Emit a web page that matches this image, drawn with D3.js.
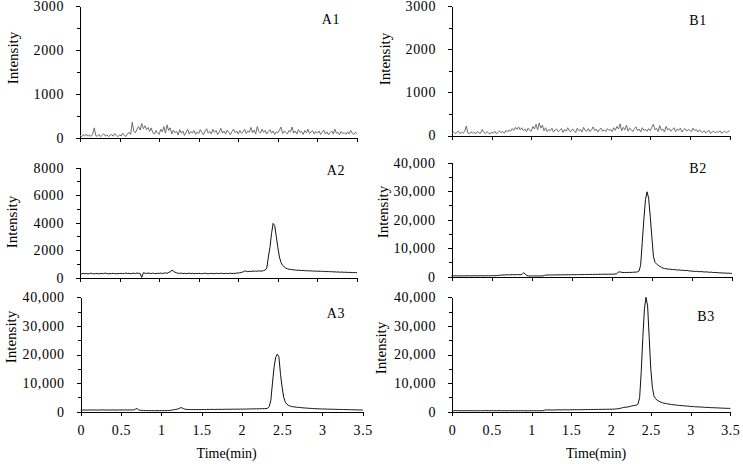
<!DOCTYPE html>
<html>
<head>
<meta charset="utf-8">
<script src="https://cdnjs.cloudflare.com/ajax/libs/d3/7.8.5/d3.min.js"></script>
<style>
body { margin: 0; background: #fff; }
svg text { font-family: "Liberation Serif", "Times New Roman", serif; fill: #000; }
.axis path, .axis line { stroke: #000; stroke-width: 1; shape-rendering: crispEdges; }
.axis text { font-size: 14px; letter-spacing: 0.6px; }
.trace { fill: none; stroke-width: 1; }
</style>
</head>
<body>
<svg width="743" height="464"></svg>
<script>
// sampling interval of the traces (min)
var sampleStep = 0.02;

var panelNames = ['A1', 'B1', 'A2', 'B2', 'A3', 'B3'];
var yMaxes = [3000, 3000, 8000, 40000, 40000, 40000];
var yMajorSteps = [1000, 1000, 2000, 10000, 10000, 10000];
var xTicks = [0, 0.5, 1, 1.5, 2, 2.5, 3, 3.5];

var seriesA1 = [
    60, 30, 75, 45, 90, 40, 70, 35, 85, 230, 50, 40, 80, 30, 65, 95, 45, 70, 35, 60, 80, 40, 100, 55, 30,
    70, 45, 110, 60, 35, 90, 130, 80, 360, 150, 120, 200, 260, 180, 330, 210, 280, 190, 240, 150, 230, 120, 90, 170, 110,
    80, 200, 140, 260, 110, 300, 170, 230, 90, 180, 120, 150, 70, 190, 110, 160, 60, 130, 200, 90, 150, 110, 170, 80, 140,
    100, 190, 130, 70, 160, 210, 110, 150, 90, 200, 130, 170, 80, 140, 220, 110, 160, 90, 180, 130, 70, 150, 200, 120, 160,
    90, 170, 110, 140, 200, 100, 160, 130, 240, 120, 180, 90, 260, 150, 110, 200, 130, 170, 90, 150, 190, 110, 160, 80, 140,
    120, 180, 250, 100, 160, 130, 90, 170, 140, 250, 110, 160, 90, 190, 130, 150, 80, 170, 120, 200, 100, 140, 170, 90, 150,
    110, 160, 80, 130, 180, 90, 140, 70, 120, 160, 90, 200, 110, 130, 70, 150, 100, 120, 80, 140, 90, 170, 110, 80, 130, 100
];

var seriesB1 = [
    50, 80, 40, 70, 100, 45, 75, 55, 90, 220, 60, 40, 85, 55, 70, 40, 95, 60, 50, 140, 75, 45, 90, 60, 35,
    80, 55, 100, 40, 70, 110, 60, 90, 50, 120, 80, 130, 100, 160, 120, 190, 140, 200, 130, 180, 110, 150, 90, 170, 120,
    100, 210, 150, 260, 130, 290, 170, 240, 110, 180, 90, 140, 110, 170, 80, 130, 150, 90, 120, 160, 70, 140, 100, 180, 110,
    90, 150, 120, 70, 170, 110, 140, 80, 190, 120, 100, 160, 90, 130, 200, 110, 150, 80, 140, 170, 100, 130, 90, 160, 120,
    140, 90, 180, 120, 210, 150, 270, 110, 190, 130, 240, 100, 170, 140, 90, 160, 200, 110, 150, 80, 180, 120, 140, 100, 160,
    110, 190, 260, 130, 170, 90, 230, 120, 150, 80, 210, 130, 160, 100, 140, 180, 90, 150, 120, 170, 80, 130, 160, 100, 140,
    120, 90, 170, 110, 140, 80, 130, 100, 70, 110, 60, 90, 120, 50, 80, 100, 60, 90, 70, 110, 50, 80, 100, 60, 90, 110
];

var seriesA2 = [
    300, 280, 320, 290, 310, 270, 300, 330, 290, 280, 310, 300, 270, 320, 290, 310, 330, 300, 280, 310, 290, 320, 300, 280, 310,
    300, 320, 290, 310, 340, 300, 320, 290, 310, 330, 300, 340, 320, 310, 20, 360, 330, 310, 340, 320, 300, 330, 310, 290, 320,
    310, 340, 300, 330, 350, 320, 380, 420, 550, 480, 400, 350, 330, 310, 340, 300, 320, 290, 310, 330, 300, 320, 290, 310, 300,
    320, 300, 290, 310, 330, 300, 280, 310, 320, 300, 290, 320, 310, 300, 330, 310, 290, 320, 300, 310, 330, 300, 320, 310, 340,
    340, 360, 380, 420, 500, 460, 440, 470, 450, 480, 460, 490, 470, 500, 480, 480, 520, 560, 700, 1500, 2200, 3200, 3950, 3800, 3000,
    2200, 1500, 1100, 900, 780, 700, 650, 620, 600, 590, 570, 560, 540, 550, 530, 520, 530, 510, 500, 510, 490, 500, 480, 490, 470,
    480, 470, 460, 470, 450, 460, 440, 450, 430, 440, 420, 430, 410, 420, 400, 410, 400, 390, 400, 380, 390, 380, 370, 380, 370, 360
];

var seriesB2 = [
    300, 250, 350, 280, 320, 260, 340, 300, 270, 330, 290, 350, 310, 280, 360, 300, 330, 280, 350, 310, 290, 340, 320, 360, 300,
    350, 380, 330, 400, 450, 500, 550, 620, 580, 650, 700, 640, 680, 720, 660, 700, 750, 680, 720, 800, 1400, 900, 400, 280, 250,
    270, 240, 300, 260, 280, 250, 300, 270, 450, 600, 550, 620, 580, 640, 600, 650, 610, 680, 630, 660, 700, 640, 690, 720, 670,
    700, 740, 680, 750, 720, 760, 700, 780, 740, 800, 760, 790, 820, 770, 840, 800, 830, 860, 810, 870, 850, 880, 840, 900, 870,
    900, 880, 950, 1000, 1600, 1700, 1550, 1500, 1450, 1500, 1480, 1520, 1500, 1550, 1580, 1600, 1700, 2000, 4000, 12000, 20000, 27000, 29800, 27500, 21000,
    14000, 7000, 5000, 4400, 4000, 3600, 3300, 3000, 2850, 2800, 2650, 2700, 2550, 2500, 2550, 2400, 2350, 2400, 2250, 2300, 2200, 2150, 2200, 2050, 2000,
    1950, 1900, 1850, 1900, 1800, 1750, 1800, 1700, 1650, 1700, 1600, 1550, 1600, 1500, 1450, 1500, 1400, 1350, 1400, 1300, 1250, 1300, 1200, 1250, 1150, 1200
];

var seriesA3 = [
    600, 560, 620, 580, 540, 610, 590, 630, 570, 600, 550, 620, 580, 600, 640, 570, 590, 610, 560, 600, 630, 580, 550, 610, 590,
    600, 620, 580, 640, 590, 610, 570, 630, 600, 900, 1100, 600, 500, 450, 420, 380, 400, 360, 380, 350, 370, 340, 360, 380, 350,
    370, 350, 380, 360, 400, 420, 500, 600, 700, 800, 900, 1100, 1400, 1300, 1000, 850, 800, 750, 780, 720, 760, 700, 740, 780, 720,
    760, 800, 740, 780, 820, 760, 800, 840, 780, 820, 800, 860, 820, 790, 850, 830, 870, 820, 860, 900, 850, 880, 920, 870, 900,
    920, 880, 950, 900, 980, 940, 1000, 960, 1020, 980, 1040, 1000, 1060, 1080, 1050, 1100, 1200, 1800, 4000, 10000, 15500, 19000, 20100, 19200, 13000,
    8500, 5000, 3300, 2600, 2200, 1950, 1800, 1700, 1650, 1550, 1500, 1480, 1400, 1350, 1300, 1280, 1200, 1180, 1150, 1100, 1080, 1050, 1020, 1000, 980,
    960, 930, 940, 890, 900, 860, 870, 830, 840, 800, 810, 770, 780, 740, 750, 710, 720, 690, 700, 660, 670, 630, 640, 600, 610, 580
];

var seriesB3 = [
    350, 300, 380, 330, 400, 320, 360, 290, 370, 340, 310, 390, 330, 350, 300, 380, 340, 320, 370, 300, 360, 390, 330, 350, 310,
    360, 330, 380, 310, 350, 400, 340, 320, 370, 350, 300, 360, 330, 380, 320, 350, 300, 340, 370, 310, 350, 330, 290, 340, 320,
    330, 300, 350, 320, 340, 310, 360, 330, 500, 620, 580, 650, 600, 560, 640, 600, 620, 680, 630, 600, 660, 700, 640, 620, 680,
    650, 700, 680, 720, 660, 740, 700, 690, 760, 720, 740, 780, 730, 800, 760, 780, 820, 770, 840, 800, 820, 860, 810, 880, 850,
    880, 900, 920, 950, 1000, 1100, 1200, 1350, 1500, 1550, 1600, 1700, 1850, 2000, 2100, 2200, 2300, 2700, 5000, 14000, 26000, 36000, 40000, 37000, 26000,
    15000, 8500, 5500, 4600, 4000, 3700, 3400, 3200, 3000, 2900, 2800, 2700, 2600, 2500, 2450, 2400, 2300, 2250, 2200, 2150, 2100, 2050, 2000, 1950, 1900,
    1850, 1780, 1800, 1700, 1720, 1640, 1660, 1580, 1600, 1500, 1530, 1450, 1480, 1400, 1420, 1350, 1380, 1300, 1320, 1250, 1270, 1200, 1230, 1150, 1180, 1120
];

var allSeries = [seriesA1, seriesB1, seriesA2, seriesB2, seriesA3, seriesB3];

// where each panel sits on the page
var layout = [
    { x0: 80,   x1: 357,   yTop: 6,     yBot: 138,   label: [331, 24],  ylab: [13, 58],   color: '#6f6f6f', bottom: false },
    { x0: 452,  x1: 729.5, yTop: 6,     yBot: 135.5, label: [698, 25],  ylab: [385, 59],  color: '#6f6f6f', bottom: false },
    { x0: 80,   x1: 357,   yTop: 167.7, yBot: 277.7, label: [336, 175], ylab: [12, 222],  color: '#111', bottom: false },
    { x0: 451.5, x1: 732,  yTop: 162.7, yBot: 276.7, label: [698, 173], ylab: [383, 212], color: '#111', bottom: false },
    { x0: 80.7, x1: 362.7, yTop: 297.3, yBot: 411.7, label: [336, 318], ylab: [11, 337],  color: '#111', bottom: true },
    { x0: 452,  x1: 730.3, yTop: 297.3, yBot: 411.7, label: [706, 321], ylab: [381, 348], color: '#111', bottom: true }
];

var svg = d3.select('svg');

panelNames.forEach(function(name, k) {
    var L = layout[k];
    var data = allSeries[k];
    var yMax = yMaxes[k];
    var step = yMajorSteps[k];

    var x = d3.scaleLinear().domain([0, 3.5]).range([L.x0, L.x1]);
    var y = d3.scaleLinear().domain([0, yMax]).range([L.yBot, L.yTop]);

    var g = svg.append('g').attr('class', 'panel');

    var major = d3.range(0, yMax + 1, step);
    var minor = d3.range(step / 2, yMax, step);
    var fmt = yMax >= 10000 ? d3.format(',d') : d3.format('d');

    // y axis
    g.append('g')
        .attr('class', 'axis')
        .attr('transform', 'translate(' + L.x0 + ',0)')
        .call(d3.axisLeft(y).tickValues(major).tickSize(4).tickSizeOuter(0)
            .tickPadding(12).tickFormat(fmt));

    g.append('g')
        .attr('class', 'axis minor')
        .attr('transform', 'translate(' + L.x0 + ',0)')
        .call(d3.axisLeft(y).tickValues(minor).tickSize(3).tickFormat(''))
        .select('.domain').remove();

    // x axis
    g.append('g')
        .attr('class', 'axis')
        .attr('transform', 'translate(0,' + L.yBot + ')')
        .call(d3.axisBottom(x).tickValues(xTicks).tickSize(4).tickSizeOuter(0)
            .tickPadding(9)
            .tickFormat(function(d) { return L.bottom ? String(d) : ''; }));

    var line = d3.line()
        .x(function(d, i) { return x(i * sampleStep); })
        .y(function(d) { return y(d); });

    g.append('path')
        .datum(data)
        .attr('class', 'trace')
        .attr('stroke', L.color)
        .attr('d', line);

    g.append('text')
        .attr('x', L.label[0])
        .attr('y', L.label[1])
        .attr('text-anchor', 'middle')
        .style('font-size', '14px')
        .style('letter-spacing', '0.6px')
        .text(name);

    g.append('text')
        .attr('transform', 'translate(' + L.ylab[0] + ',' + L.ylab[1] + ') rotate(-90)')
        .attr('text-anchor', 'middle')
        .attr('dy', '0.35em')
        .style('font-size', '15px')
        .text('Intensity');

    if (L.bottom) {
        g.append('text')
            .attr('x', (L.x0 + L.x1) / 2 + 5)
            .attr('y', 458)
            .attr('text-anchor', 'middle')
            .style('font-size', '14px')
            .text('Time(min)');
    }
});
</script>
</body>
</html>
